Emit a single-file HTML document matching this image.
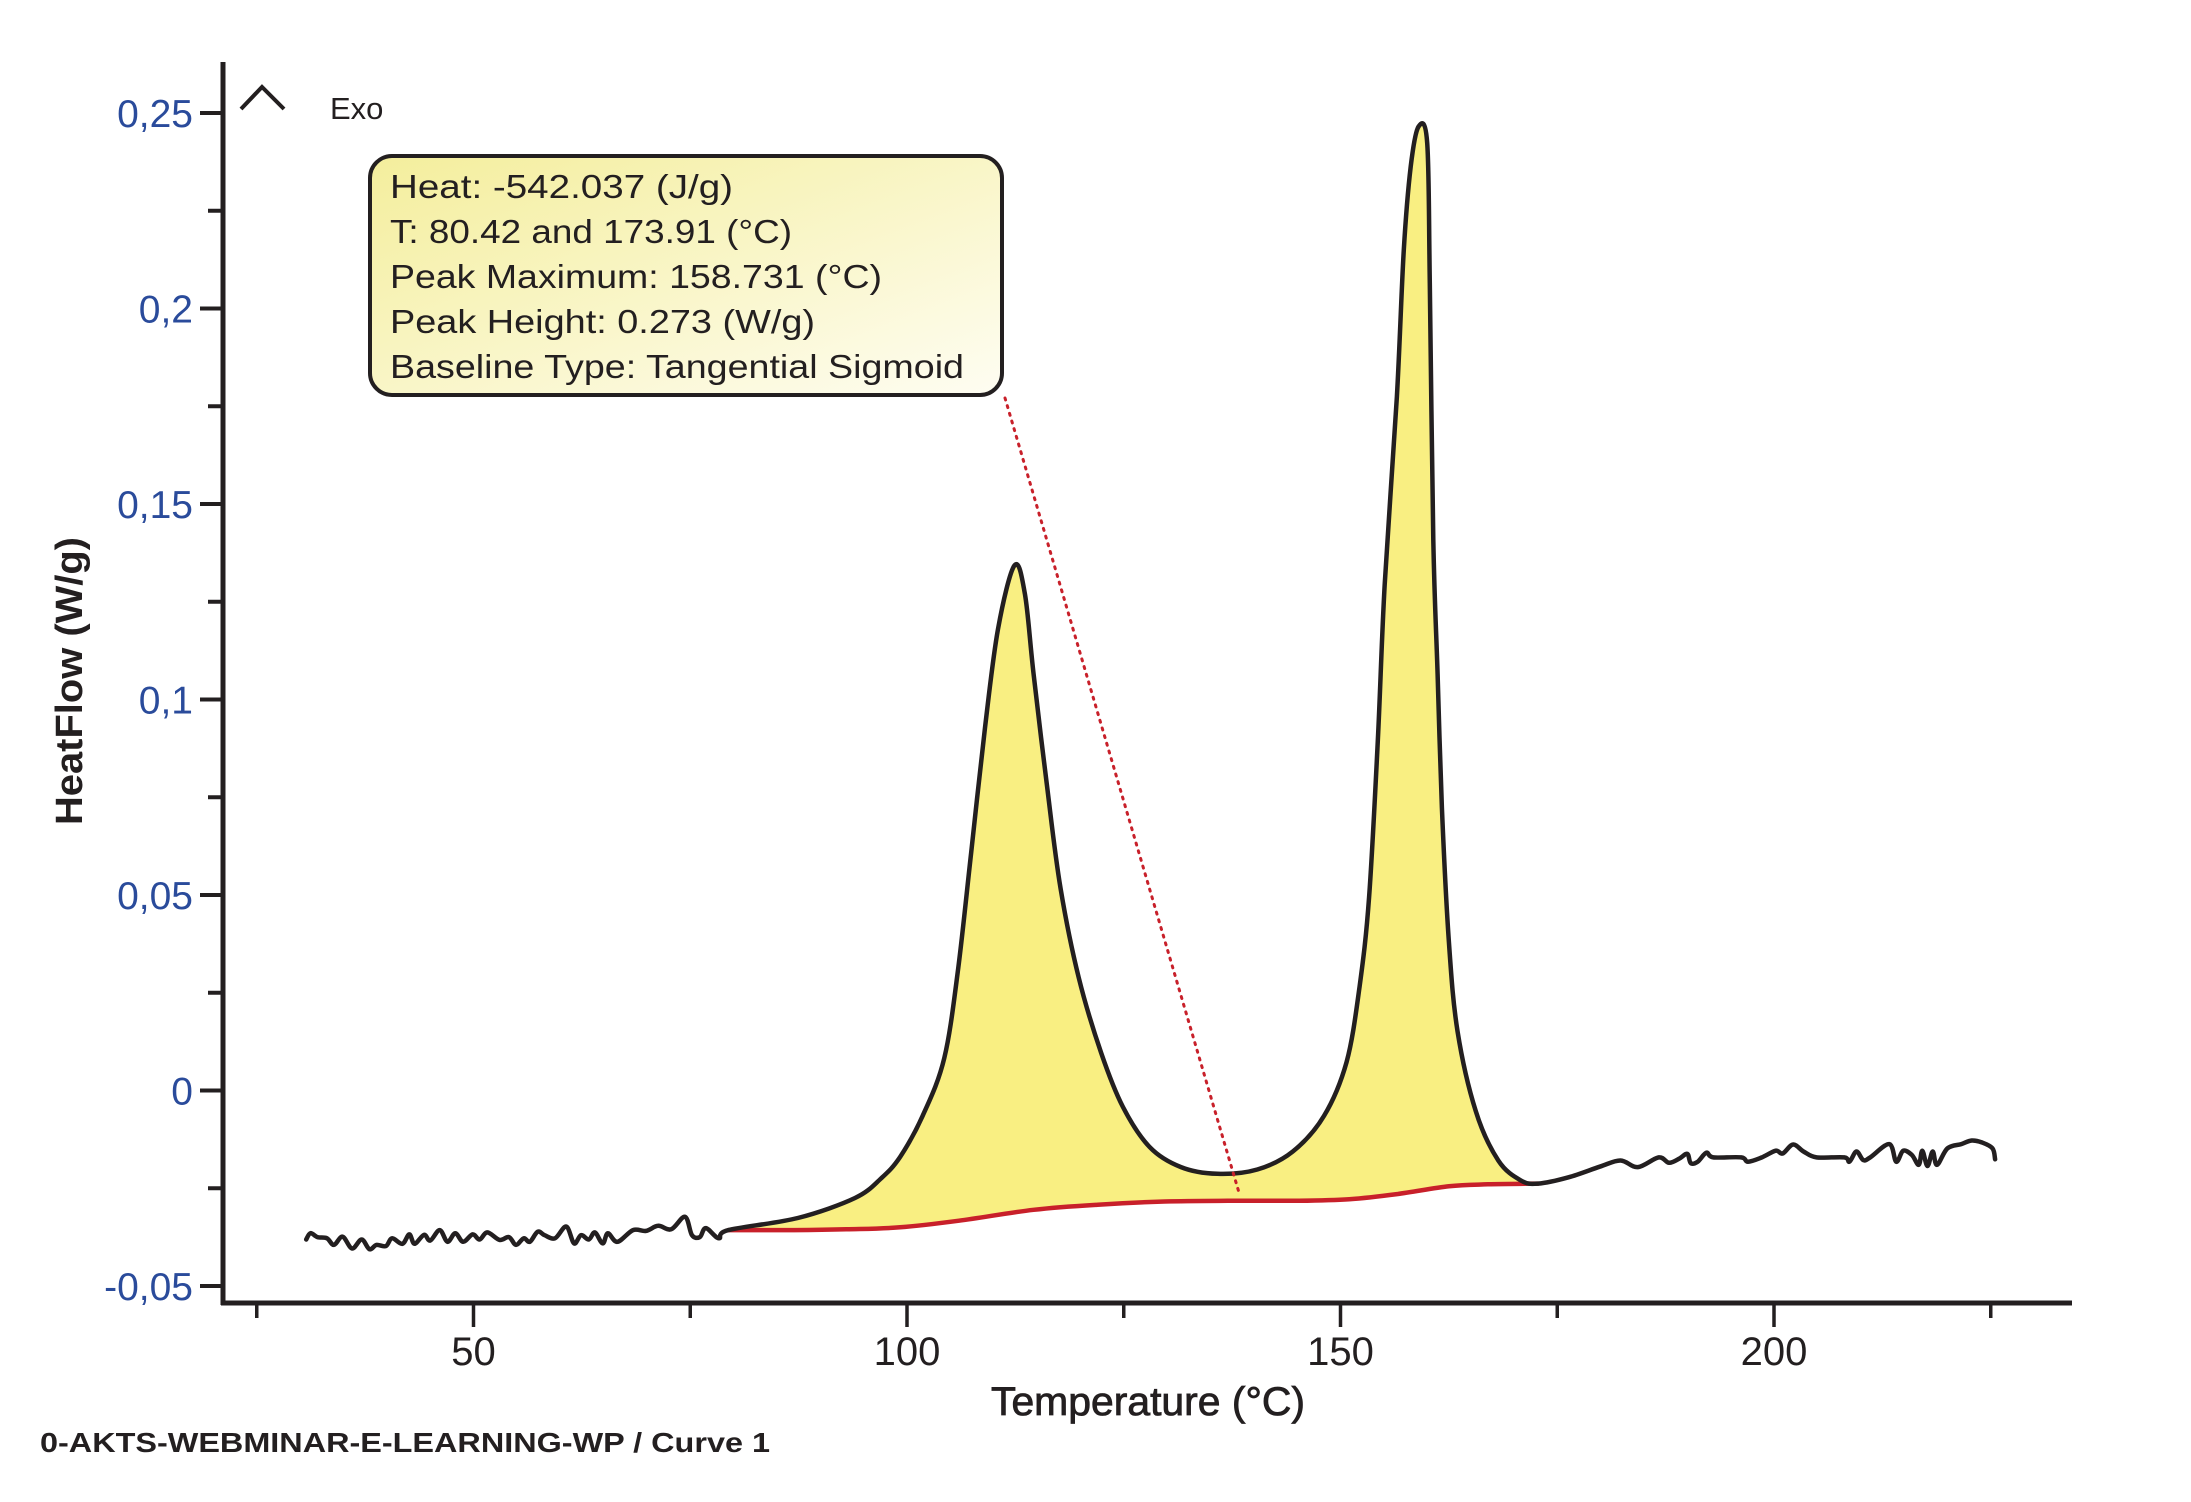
<!DOCTYPE html>
<html><head><meta charset="utf-8"><style>
html,body{margin:0;padding:0;background:#fff;}
svg{display:block;font-family:"Liberation Sans",sans-serif;}
</style></head><body>
<svg id="chart" width="2191" height="1502" viewBox="0 0 2191 1502" xmlns="http://www.w3.org/2000/svg">
<defs>
<linearGradient id="boxgrad" x1="0" y1="0" x2="1" y2="1">
<stop offset="0" stop-color="#f4ee9c"/><stop offset="1" stop-color="#fefdf2"/>
</linearGradient>
</defs>
<g id="plot"></g>
<g id="axes"></g>
<g>
<polyline points="241,109 262,87 284,109" fill="none" stroke="#231f20" stroke-width="4"/>
<text x="330" y="119" font-size="31" fill="#231f20">Exo</text>
</g>
<line x1="1005" y1="398" x2="1240" y2="1196" stroke="#c8202a" stroke-width="3" stroke-dasharray="2,6" stroke-linecap="round"/>
<g>
<rect x="370" y="156" width="632" height="239" rx="22" fill="url(#boxgrad)" stroke="#231f20" stroke-width="4"/>
<text x="390" y="198" font-size="33" fill="#231f20" textLength="343" lengthAdjust="spacingAndGlyphs">Heat:  -542.037 (J/g)</text>
<text x="390" y="243" font-size="33" fill="#231f20" textLength="402" lengthAdjust="spacingAndGlyphs">T: 80.42 and 173.91 (°C)</text>
<text x="390" y="288" font-size="33" fill="#231f20" textLength="492" lengthAdjust="spacingAndGlyphs">Peak Maximum:  158.731 (°C)</text>
<text x="390" y="333" font-size="33" fill="#231f20" textLength="425" lengthAdjust="spacingAndGlyphs">Peak Height:  0.273 (W/g)</text>
<text x="390" y="378" font-size="33" fill="#231f20" textLength="574" lengthAdjust="spacingAndGlyphs">Baseline Type:  Tangential Sigmoid</text>
</g>
<text transform="translate(82,681) rotate(-90)" text-anchor="middle" font-size="38" font-weight="bold" fill="#231f20" textLength="288" lengthAdjust="spacingAndGlyphs">HeatFlow (W/g)</text>
<text x="1148" y="1415" text-anchor="middle" font-size="40" fill="#231f20" stroke="#231f20" stroke-width="0.8" textLength="314" lengthAdjust="spacingAndGlyphs">Temperature (°C)</text>
<text x="40" y="1452" font-size="28" font-weight="bold" fill="#231f20" textLength="730" lengthAdjust="spacingAndGlyphs">0-AKTS-WEBMINAR-E-LEARNING-WP / Curve 1</text>
</svg>
<script>
const curveT = [30.7,31.2,32.0,33.1,33.9,34.9,36.0,37.1,38.0,38.8,39.9,40.6,41.8,42.6,43.2,44.3,45.0,46.1,47.0,47.9,48.8,49.9,50.7,51.6,53.0,54.1,54.9,55.8,56.5,57.4,58.2,59.4,60.7,61.6,62.4,63.3,64.0,64.9,65.5,66.6,68.4,69.9,71.3,72.8,74.4,75.2,76.1,76.8,78.3,79.4,
87.4,94.0,97.0,99.2,101.8,104.3,105.9,107.4,109.0,110.5,112.4,113.6,114.6,116.2,117.7,119.8,122.4,124.9,128.0,131.6,135.8,140.4,144.5,148.1,150.7,152.2,153.3,154.3,155.1,156.5,157.3,158.1,159.0,160.0,160.3,160.7,161.2,161.7,162.5,163.5,165.6,168.2,170.8,172.8,
176.3,179.9,182.3,184.3,186.7,187.9,189.1,190.0,190.4,191.2,192.2,193.0,196.2,197.0,198.6,200.2,201.0,202.2,203.4,204.9,208.1,208.7,209.5,210.3,211.1,213.3,214.1,214.9,215.9,216.7,217.1,217.7,218.3,218.8,220.0,221.6,222.8,224.0,225.2,225.5];
const curveV = [-0.0381,-0.0365,-0.0375,-0.0378,-0.0395,-0.0374,-0.0404,-0.0381,-0.0406,-0.0395,-0.0398,-0.0378,-0.0392,-0.0368,-0.0392,-0.0369,-0.0384,-0.0357,-0.0387,-0.0365,-0.0387,-0.0368,-0.0381,-0.0363,-0.0382,-0.0375,-0.0395,-0.0378,-0.0387,-0.0361,-0.0370,-0.0378,-0.0348,-0.0391,-0.0370,-0.0381,-0.0363,-0.0391,-0.0365,-0.0387,-0.0357,-0.0359,-0.0346,-0.0355,-0.0323,-0.0370,-0.0375,-0.0352,-0.0378,-0.0357,
-0.0326,-0.0275,-0.0225,-0.0170,-0.0065,0.0083,0.0312,0.0609,0.0928,0.118,0.1343,0.127,0.1065,0.0769,0.0518,0.0289,0.0096,-0.0042,-0.0145,-0.0196,-0.0213,-0.0202,-0.0156,-0.0065,0.0073,0.0266,0.0495,0.0894,0.1294,0.1775,0.215,0.2363,0.2465,0.2423,0.2065,0.1408,0.1065,0.0723,0.038,0.0152,-0.0053,-0.0179,-0.023,-0.0238,
-0.0222,-0.0195,-0.0179,-0.0196,-0.0171,-0.0185,-0.0174,-0.0162,-0.0186,-0.0182,-0.0159,-0.0171,-0.0171,-0.0182,-0.0171,-0.0154,-0.0161,-0.0138,-0.0156,-0.0171,-0.0171,-0.0182,-0.0156,-0.0178,-0.0171,-0.0137,-0.0182,-0.0154,-0.0165,-0.0190,-0.0154,-0.0193,-0.0156,-0.0190,-0.0148,-0.0137,-0.0128,-0.0133,-0.0148,-0.0176];
const baseT = [79.4,87.0,93.0,99.2,106.0,114.6,122.0,129.7,137.0,145.0,151.0,156.5,162.5,167.0,172.8];
const baseV = [-0.0357,-0.0357,-0.0355,-0.0350,-0.0333,-0.0305,-0.0292,-0.0284,-0.0282,-0.0282,-0.0278,-0.0265,-0.0245,-0.0240,-0.0238];
const peakStart = 79.4, peakEnd = 172.8;
const xTicksMajor = [50,100,150,200];
const xTicksMinor = [25,75,125,175,225];
const yTicksMajor = [0.25,0.2,0.15,0.1,0.05,0,-0.05];
const yTickLabels = ["0,25","0,2","0,15","0,1","0,05","0","-0,05"];
const yTicksMinor = [0.225,0.175,0.125,0.075,0.025,-0.025];

const X = t => 1774 + (t - 200) * 8.67;
const Y = v => 1090.5 - v * 3910;
const NS = "http://www.w3.org/2000/svg";
function mk(tag, attrs, parent){const e=document.createElementNS(NS,tag);for(const k in attrs)e.setAttribute(k,attrs[k]);parent.appendChild(e);return e;}
function segs(pts){
  let d = "";
  for(let i=0;i<pts.length-1;i++){
    const p0=pts[Math.max(0,i-1)],p1=pts[i],p2=pts[i+1],p3=pts[Math.min(pts.length-1,i+2)];
    const c1x=p1[0]+(p2[0]-p0[0])/6,c1y=p1[1]+(p2[1]-p0[1])/6;
    const c2x=p2[0]-(p3[0]-p1[0])/6,c2y=p2[1]-(p3[1]-p1[1])/6;
    d+=" C"+c1x.toFixed(1)+","+c1y.toFixed(1)+" "+c2x.toFixed(1)+","+c2y.toFixed(1)+" "+p2[0].toFixed(1)+","+p2[1].toFixed(1);
  }
  return d;
}
function smooth(pts){return "M"+pts[0][0].toFixed(1)+","+pts[0][1].toFixed(1)+segs(pts);}
const plot=document.getElementById('plot'), axes=document.getElementById('axes');
const allPts = curveT.map((t,i)=>[X(t),Y(curveV[i])]);
const peakPts = curveT.map((t,i)=>[t,curveV[i]]).filter(p=>p[0]>=peakStart&&p[0]<=peakEnd).map(p=>[X(p[0]),Y(p[1])]);
const basePts = baseT.map((t,i)=>[X(t),Y(baseV[i])]);
const revBase = basePts.slice().reverse();
const fd = smooth(peakPts) + " L" + revBase[0][0].toFixed(1)+","+revBase[0][1].toFixed(1) + segs(revBase) + " Z";
const fill = mk('path',{d:fd,fill:'#f9ef82',stroke:'none'},plot);


const bl = mk('path',{d:smooth(basePts),fill:'none',stroke:'#c8202a','stroke-width':4.5,'stroke-linecap':'round'},plot);


const cl = mk('path',{d:smooth(allPts),fill:'none',stroke:'#231f20','stroke-width':4.5,'stroke-linejoin':'round','stroke-linecap':'round'},plot);



const ya = mk('line',{x1:223,y1:62,x2:223,y2:1305,stroke:'#231f20','stroke-width':5},axes);


const xa = mk('line',{x1:221,y1:1303,x2:2072,y2:1303,stroke:'#231f20','stroke-width':5},axes);


yTicksMajor.forEach((v,i)=>{
  const tk=mk('line',{x1:200,y1:Y(v),x2:223,y2:Y(v),stroke:'#231f20','stroke-width':4},axes);
  
  
  const tx=mk('text',{x:193,y:Y(v)+14,'text-anchor':'end','font-size':39,fill:'#2a4b9b'},axes);
  
  
  tx.textContent=yTickLabels[i];
});
yTicksMinor.forEach(v=>{
  const tk=mk('line',{x1:208,y1:Y(v),x2:223,y2:Y(v),stroke:'#231f20','stroke-width':4},axes);
  
  
});
xTicksMajor.forEach(t=>{
  const tk=mk('line',{x1:X(t),y1:1303,x2:X(t),y2:1327,stroke:'#231f20','stroke-width':3.5},axes);
  
  
  const tx=mk('text',{x:X(t),y:1381-16,'text-anchor':'middle','font-size':40,fill:'#231f20'},axes);
  
  
  tx.textContent=String(t);
});
xTicksMinor.forEach(t=>{
  const tk=mk('line',{x1:X(t),y1:1303,x2:X(t),y2:1318,stroke:'#231f20','stroke-width':3.5},axes);
  
  
});
</script>
</body></html>
